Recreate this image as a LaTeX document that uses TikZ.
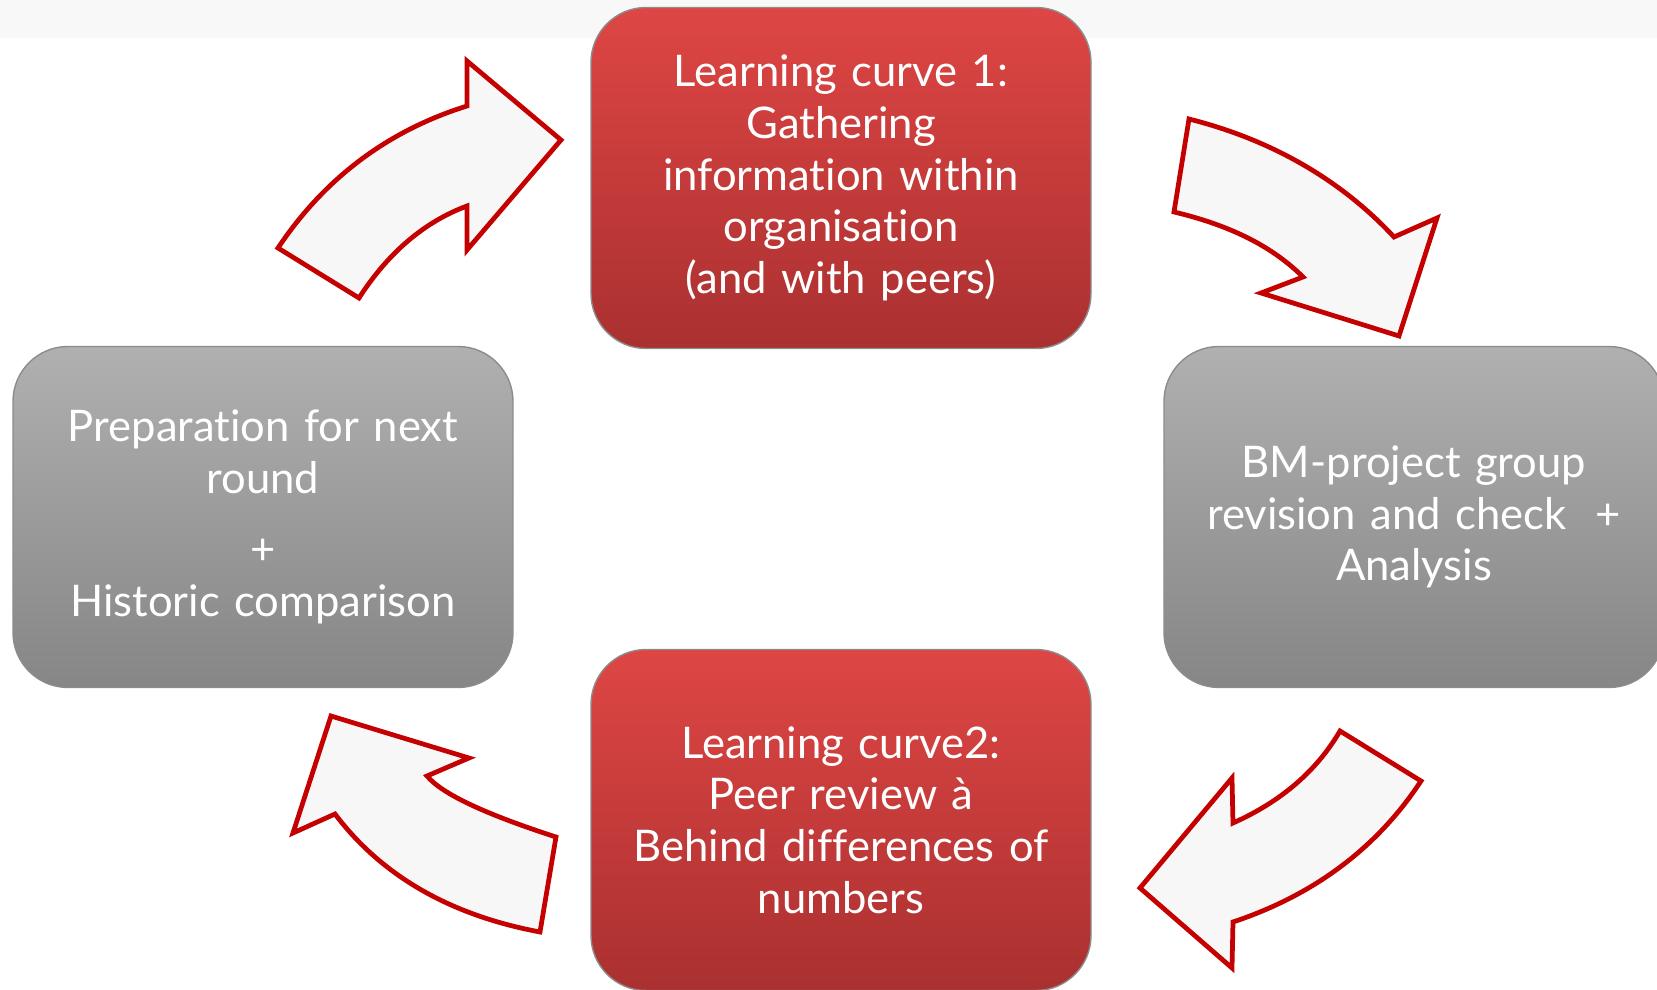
\documentclass[tikz,border=0pt]{standalone}
\usepackage{fontspec}
\setmainfont[Ligatures=NoCommon]{Lato}
\definecolor{redtop}{RGB}{222,70,68}
\definecolor{redbot}{RGB}{170,48,48}
\definecolor{greytop}{RGB}{176,176,176}
\definecolor{greybot}{RGB}{134,134,134}
\definecolor{arrowred}{RGB}{196,0,0}
\definecolor{arrowfill}{RGB}{247,247,247}
\definecolor{bandgrey}{RGB}{248,248,248}
\begin{document}
\begin{tikzpicture}[x=0.1mm, y=-0.1mm]
    % Define styles
    \tikzset{
        stepbox/.style={rounded corners=5.5mm, minimum width=50mm, minimum height=34.1mm, text width=46mm, align=center, text=white, font=\fontsize{12.4pt}{14.7pt}\selectfont, draw=black!45, line width=0.4pt},
        redbox/.style={stepbox, top color=redtop, bottom color=redbot},
        greybox/.style={stepbox, top color=greytop, bottom color=greybot},
        bentarrow/.style={draw=arrowred, fill=arrowfill, line width=1.35pt, line join=miter}
    }

    % Page and top band
    \useasboundingbox (0,0) rectangle (1657,990);
    \fill[bandgrey] (0,0) rectangle (1657,38);

    % Boxes of the cycle
    \node[redbox] (lc1) at (841,178) {Learning curve 1:\\Gathering\\information within\\organisation\\(and with peers)};
    \node[greybox] (review) at (1414,517) {BM-project group\\revision and check~~+\\Analysis};
    \node[redbox] (lc2) at (841,820) {Learning curve2:\\Peer review à\ \\Behind differences of\\numbers};
    \node[greybox] (prep) at (263,517) {Preparation for next\\round\\[2mm]+\\Historic comparison};

    % Bent arrows between the boxes
    \draw[bentarrow] (278,248) .. controls (324,179) and (387,131) .. (467,106)
        -- (467,61) -- (561,140) -- (467,250) -- (467,206)
        .. controls (424,222) and (388,253) .. (359,298) -- cycle;
    \draw[bentarrow] (1189,119) .. controls (1272,140) and (1341,180) .. (1394,237)
        -- (1437,218) -- (1399,336) -- (1261,293) -- (1303,277)
        .. controls (1272,246) and (1229,225) .. (1174,212) -- cycle;
    \draw[bentarrow] (1421,781) .. controls (1377,848) and (1314,895) .. (1233,922)
        -- (1232,968) -- (1140,888) -- (1232,778) -- (1233,823)
        .. controls (1280,802) and (1316,772) .. (1340,731) -- cycle;
    \draw[bentarrow] (556,837) .. controls (485,814) and (442,794) .. (427,776)
        -- (469,758) -- (331,716) -- (293,833) -- (335,814)
        .. controls (381,875) and (449,915) .. (540,932) -- cycle;

\end{tikzpicture}
\end{document}
